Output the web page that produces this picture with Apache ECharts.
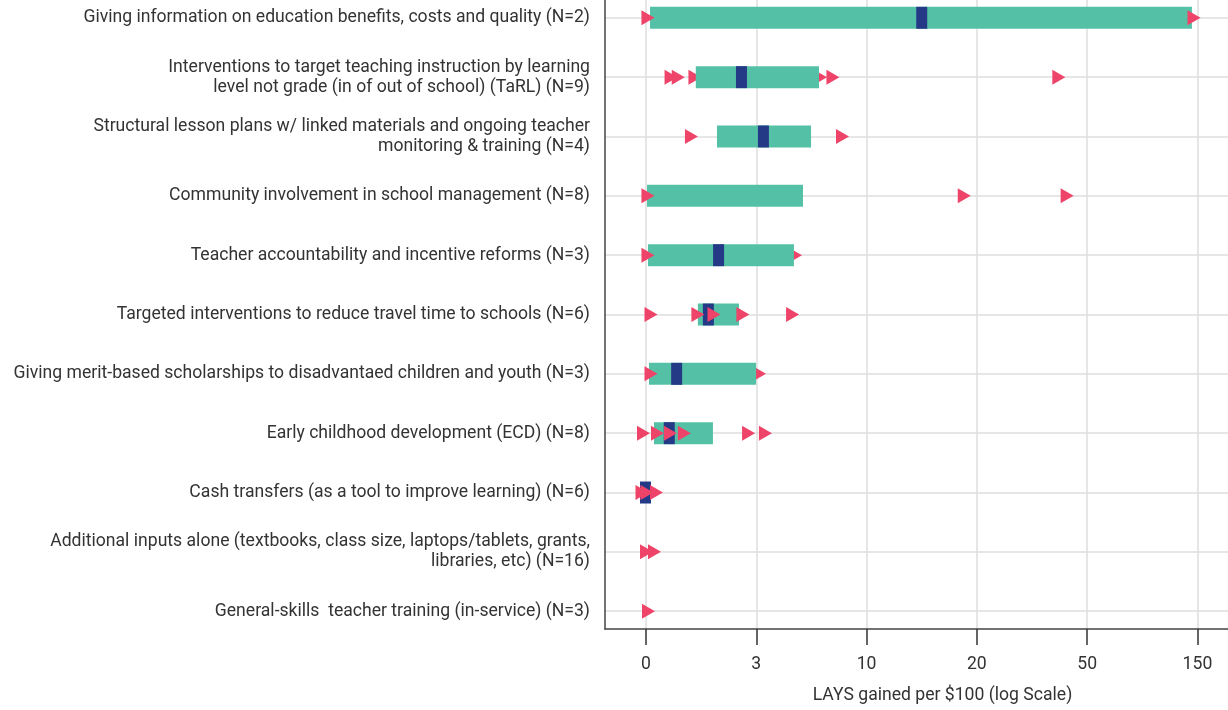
<!DOCTYPE html>
<html>
<head>
<meta charset="utf-8">
<script src="https://cdn.jsdelivr.net/npm/echarts@6/dist/echarts.min.js"></script>
<style>
html,body{margin:0;padding:0;background:#fff;}
#chart{width:1228px;height:710px;}
</style>
</head>
<body>
<div id="chart"></div>
<script>
// ---- data ----
const categories = [
  "Giving information on education benefits, costs and quality (N=2)",
  "Interventions to target teaching instruction by learning\nlevel not grade (in of out of school) (TaRL) (N=9)",
  "Structural lesson plans w/ linked materials and ongoing teacher\nmonitoring & training (N=4)",
  "Community involvement in school management (N=8)",
  "Teacher accountability and incentive reforms (N=3)",
  "Targeted interventions to reduce travel time to schools (N=6)",
  "Giving merit-based scholarships to disadvantaed children and youth (N=3)",
  "Early childhood development (ECD) (N=8)",
  "Cash transfers (as a tool to improve learning) (N=6)",
  "Additional inputs alone (textbooks, class size, laptops/tablets, grants,\nlibraries, etc) (N=16)",
  "General-skills  teacher training (in-service) (N=3)"
];
const tickValues = [0, 3, 10, 20, 50, 150];
const tickLabels = ["0", "3", "10", "20", "50", "150"];

const rangeLow  = [0.052, 0.87, 1.44, 0.013, 0.025, 0.92, 0.038, 0.106, null, null, null];
const rangeHigh = [142,   6.11, 5.61, 5.14,  4.65,  2.22, 2.99,  1.32,  null, null, null];
const medians   = [14.2,  2.32, 3.27, null,  1.49,  1.19, 0.47,  0.34, -0.006, null, null];

// individual study estimates (drawn above the range bars)
const studyEstimates = [
  [0.025, 145],
  [0.37, 0.50, 7.08, 39.6],
  [0.77, 7.82],
  [0.025, 18.5, 42.4],
  [0.025],
  [0.065, 0.92, 1.35, 2.38, 4.58],
  [0.065],
  [-0.031, 0.156, 0.36, 0.62, 2.63, 3.35],
  [-0.049, 0.013, 0.141],
  [0.006, 0.113],
  [0.032]
];
// individual study estimates partly hidden behind the range bars
const studyEstimatesBehind = [
  [], [0.85, 6.21], [], [], [4.73], [], [3.12], [], [], [], []
];

// ---- scale: tick labels are evenly spaced, log-interpolated between them ----
const lnT = tickValues.map(v => Math.log(v + 1));
function toPos(v) {
  const l = Math.log(v + 1);
  if (l <= lnT[0]) return (l - lnT[0]) / (lnT[1] - lnT[0]);
  for (let i = 0; i < lnT.length - 1; i++) {
    if (l <= lnT[i + 1]) return i + (l - lnT[i]) / (lnT[i + 1] - lnT[i]);
  }
  const n = lnT.length - 1;
  return n + (l - lnT[n]) / (lnT[n] - lnT[n - 1]);
}

const rowIdx = categories.map((_, i) => i);
const rangeData = [];
rowIdx.forEach(i => {
  if (rangeLow[i] != null && rangeHigh[i] != null) rangeData.push([toPos(rangeLow[i]), toPos(rangeHigh[i]), i]);
});
const medianData = [];
rowIdx.forEach(i => { if (medians[i] != null) medianData.push([toPos(medians[i]), i]); });
const frontData = [];
studyEstimates.forEach((arr, i) => arr.forEach(v => frontData.push([toPos(v), i])));
const backData = [];
studyEstimatesBehind.forEach((arr, i) => arr.forEach(v => backData.push([toPos(v), i])));

const TEAL = '#54c1a6', NAVY = '#253a87', PINK = '#ef4469';
const triangle = 'path://M0,0 L1,0.5 L0,1 Z';
const FONT = 'Roboto';
const FS = 17.6;

const chart = echarts.init(document.getElementById('chart'), null, { renderer: 'canvas' });
chart.setOption({
  animation: false,
  backgroundColor: '#ffffff',
  grid: { left: 605, right: 0, top: 0, bottom: 77, containLabel: false },
  xAxis: {
    type: 'value',
    min: -0.3717,
    max: 5.277,
    name: 'LAYS gained per $100 (log Scale)',
    nameLocation: 'middle',
    nameGap: 58,
    nameTextStyle: { fontFamily: FONT, fontSize: FS, color: '#333', padding: [0, 0, 0, 52] },
    axisLine: { show: true, onZero: false, lineStyle: { color: '#444', width: 1.5 } },
    axisTick: { show: true, customValues: tickValues.map((_, i) => i), length: 16, lineStyle: { color: '#333', width: 1.5 } },
    axisLabel: {
      customValues: tickValues.map((_, i) => i),
      formatter: v => tickLabels[Math.round(v)],
      margin: 27, fontFamily: FONT, fontSize: FS, color: '#333'
    },
    splitLine: { show: true, lineStyle: { color: '#dedede', width: 1.5 } }
  },
  yAxis: {
    type: 'value',
    inverse: true,
    min: -0.3,
    max: 10.3,
    axisLine: { show: true, onZero: false, lineStyle: { color: '#444', width: 1.5 } },
    axisTick: { show: false, customValues: rowIdx },
    axisLabel: {
      customValues: rowIdx,
      formatter: v => categories[Math.round(v)],
      margin: 15, fontFamily: FONT, fontSize: FS, lineHeight: 20, color: '#333', align: 'right'
    },
    splitLine: { show: true, lineStyle: { color: '#dedede', width: 1.5 } }
  },
  series: [
    {
      name: 'Studies (behind)',
      type: 'scatter',
      data: backData,
      symbol: triangle,
      symbolSize: [13, 15],
      itemStyle: { color: PINK, opacity: 1 },
      z: 2
    },
    {
      name: 'Range',
      type: 'custom',
      data: rangeData,
      encode: { x: [0, 1], y: 2 },
      renderItem: function (params, api) {
        const a = api.coord([api.value(0), api.value(2)]);
        const b = api.coord([api.value(1), api.value(2)]);
        const h = 22;
        return {
          type: 'rect',
          shape: { x: a[0], y: a[1] - h / 2, width: b[0] - a[0], height: h },
          style: { fill: TEAL }
        };
      },
      z: 3
    },
    {
      name: 'Median',
      type: 'scatter',
      data: medianData,
      symbol: 'rect',
      symbolSize: [11, 22],
      itemStyle: { color: NAVY, opacity: 1 },
      z: 4
    },
    {
      name: 'Studies',
      type: 'scatter',
      data: frontData,
      symbol: triangle,
      symbolSize: [13, 15],
      itemStyle: { color: PINK, opacity: 1 },
      z: 5
    }
  ]
});
</script>
</body>
</html>
